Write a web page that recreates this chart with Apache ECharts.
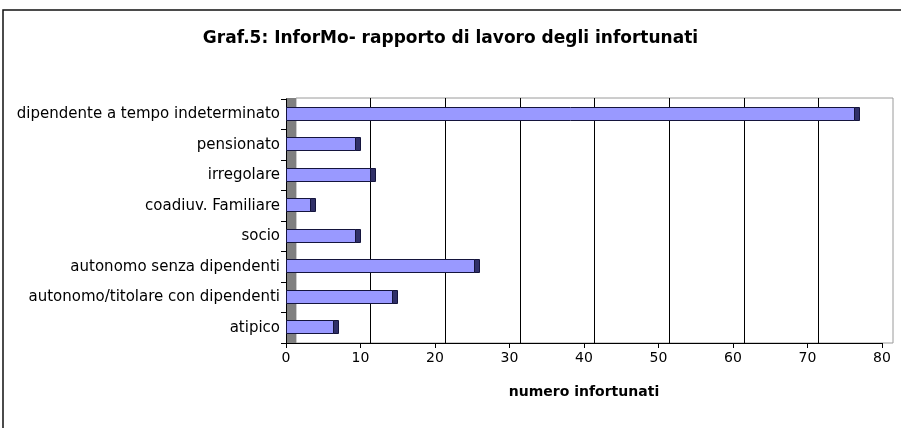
<!DOCTYPE html>
<html>
<head>
<meta charset="utf-8">
<script src="https://cdn.jsdelivr.net/npm/echarts@6/dist/echarts.min.js"></script>
<style>
html,body{margin:0;padding:0;background:#fff;}
#chart{width:901px;height:428px;}
</style>
</head>
<body>
<div id="chart"></div>
<script>
const titleText = 'Graf.5: InforMo- rapporto di lavoro degli infortunati';
const categories = [
  'dipendente a tempo indeterminato',
  'pensionato',
  'irregolare',
  'coadiuv. Familiare',
  'socio',
  'autonomo senza dipendenti',
  'autonomo/titolare con dipendenti',
  'atipico'
];
const values = [76, 9, 11, 3, 9, 25, 14, 6];
const xAxisName = 'numero infortunati';
const xMin = 0, xMax = 80, xStep = 10;

const FONT = 'DejaVu Sans';
const chart = echarts.init(document.getElementById('chart'), null, {renderer: 'canvas'});

const option = {
  animation: false,
  backgroundColor: '#ffffff',
  title: {
    text: titleText,
    left: 'center',
    top: 25,
    textStyle: {fontFamily: FONT, fontSize: 17, fontWeight: 'bold', color: '#000'}
  },
  graphic: [{
    type: 'polyline',
    shape: {points: [[3, 440], [3, 10], [905, 10]]},
    style: {stroke: '#111', lineWidth: 1.5, fill: null},
    silent: true
  }],
  grid: [
    {left: 286, right: 19, top: 99, bottom: 85, containLabel: false},
    {left: 296, right: 8, top: 98, bottom: 85, show: true, borderColor: '#9a9a9a', borderWidth: 1, backgroundColor: 'transparent'},
    {left: 286, width: 10, top: 98, bottom: 85, show: true, backgroundColor: '#808080', borderWidth: 0}
  ],
  xAxis: [
    {
      gridIndex: 0, type: 'value', min: xMin, max: xMax, interval: xStep,
      axisLine: {show: true, lineStyle: {color: '#000', width: 1}},
      axisTick: {show: true, length: 5, lineStyle: {color: '#000'}},
      axisLabel: {fontFamily: FONT, fontSize: 14, color: '#000', margin: 8},
      splitLine: {show: false},
      name: xAxisName, nameLocation: 'middle', nameGap: 42,
      nameTextStyle: {fontFamily: FONT, fontSize: 14, fontWeight: 'bold', color: '#000'}
    },
    {
      gridIndex: 1, type: 'value', min: xMin, max: xMax, interval: xStep,
      axisLine: {show: false}, axisTick: {show: false}, axisLabel: {show: false},
      splitLine: {show: true, showMinLine: false, showMaxLine: false, lineStyle: {color: '#000', width: 1}}
    },
    {gridIndex: 2, type: 'value', show: false}
  ],
  yAxis: [
    {
      gridIndex: 0, type: 'category', data: categories, inverse: true, boundaryGap: true,
      axisLine: {show: true, lineStyle: {color: '#000', width: 1}},
      axisTick: {show: true, length: 5, alignWithLabel: false, lineStyle: {color: '#000'}},
      axisLabel: {fontFamily: FONT, fontSize: 15, color: '#000', margin: 6},
      splitLine: {show: false}
    },
    {gridIndex: 1, type: 'category', data: categories, show: false},
    {gridIndex: 2, type: 'category', data: categories, show: false}
  ],
  series: [{
    type: 'custom',
    xAxisIndex: 0, yAxisIndex: 0,
    data: values.map((v, i) => [v, i]),
    encode: {x: 0, y: 1},
    z: 5,
    renderItem: function (params, api) {
      const v = api.value(0), ci = api.value(1);
      const p0 = api.coord([0, ci]);
      const p1 = api.coord([v, ci]);
      const band = api.size([0, 1])[1];
      const h = Math.round(band * 0.41);
      const y = Math.round(p0[1] - h / 2 - 1) + 0.5;
      const x0 = Math.round(p0[0]) + 0.5;
      const xe = Math.round(p1[0]) + 2.5;
      return {
        type: 'group',
        children: [
          {
            type: 'rect',
            shape: {x: x0, y: y, width: xe - x0, height: h},
            style: {fill: '#9999ff', stroke: '#14143c', lineWidth: 1}
          },
          {
            type: 'rect',
            shape: {x: xe, y: y, width: 5, height: h},
            style: {fill: '#303068', stroke: '#14143c', lineWidth: 1}
          }
        ]
      };
    }
  }]
};
chart.setOption(option);
</script>
</body>
</html>
